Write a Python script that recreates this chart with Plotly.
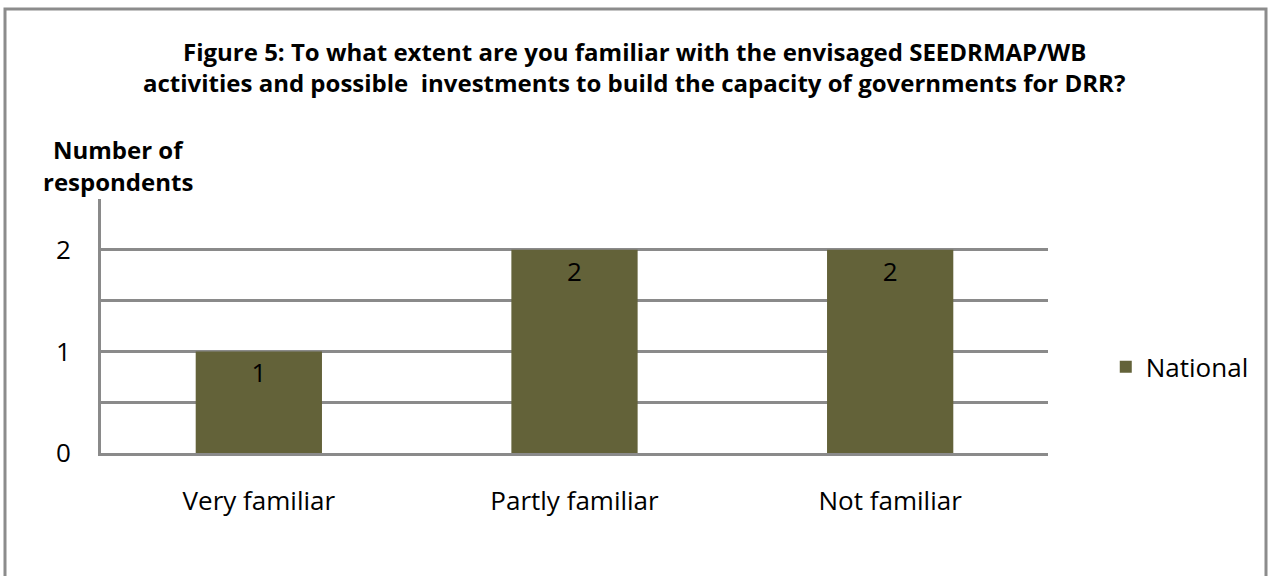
import plotly.graph_objects as go

categories = ["Very familiar", "Partly familiar", "Not familiar"]
national = [1, 2, 2]
series_name = "National"
y_tickvals = [0, 0.5, 1, 1.5, 2, 2.5]
y_ticktext = ["0", "", "1", "", "2", ""]
title_lines = [
    "Figure 5: To what extent are you familiar with the envisaged SEEDRMAP/WB",
    "activities and possible  investments to build the capacity of governments for DRR?",
]
y_title_lines = ["Number of", "respondents"]

FONT = "Open Sans"
BAR = "#636239"
GRID = "#8a8a8a"

fig = go.Figure()
fig.add_trace(go.Bar(
    x=categories, y=national, name=series_name,
    marker=dict(color=BAR, line=dict(width=0)),
    text=[str(v) for v in national], textposition="inside",
    insidetextanchor="end", textangle=0,
    textfont=dict(family=FONT, size=26, color="black"),
    width=0.4,
))

fig.update_layout(
    width=1268, height=576,
    margin=dict(l=101, r=220, t=199, b=123),
    paper_bgcolor="white", plot_bgcolor="white",
    font=dict(family=FONT, size=26, color="black"),
    showlegend=True,
    legend=dict(x=1.061, y=0.339, xanchor="left", yanchor="middle",
                font=dict(family=FONT, size=26, color="black"),
                bgcolor="rgba(0,0,0,0)", itemwidth=30),
    bargap=0.6,
)
fig.update_xaxes(
    showgrid=False, showline=True, linecolor=GRID, linewidth=3,
    ticks="", tickfont=dict(family=FONT, size=26), ticklabelstandoff=23,
    range=[-0.5, 2.5],
)
fig.update_yaxes(
    range=[0, 2.5], tickvals=y_tickvals, ticktext=y_ticktext,
    showgrid=True, gridcolor=GRID, gridwidth=3,
    showline=True, linecolor=GRID, linewidth=3,
    zeroline=False, ticks="", tickfont=dict(family=FONT, size=26),
    ticklabelstandoff=22,
)

for i, line in enumerate(title_lines):
    fig.add_annotation(text="<b>" + line + "</b>", xref="paper", yref="paper",
                       x=(634 - 101) / 947, y=(453 - (52 + 31 * i)) / 254,
                       xanchor="center", yanchor="middle", showarrow=False,
                       font=dict(family=FONT, size=24, color="black"))
for i, line in enumerate(y_title_lines):
    fig.add_annotation(text="<b>" + line + "</b>", xref="paper", yref="paper",
                       x=(118 - 101) / 947, y=(453 - (150 + 32 * i)) / 254,
                       xanchor="center", yanchor="middle", showarrow=False,
                       font=dict(family=FONT, size=24, color="black"))

# outer chart border
fig.add_shape(type="rect", xref="paper", yref="paper",
              x0=(5 - 101) / 947, x1=(1266 - 101) / 947,
              y0=(453 - 590) / 254, y1=(453 - 9) / 254,
              line=dict(color="#8c8c8c", width=3), fillcolor="rgba(0,0,0,0)", layer="below")

fig.write_html("out.html")
